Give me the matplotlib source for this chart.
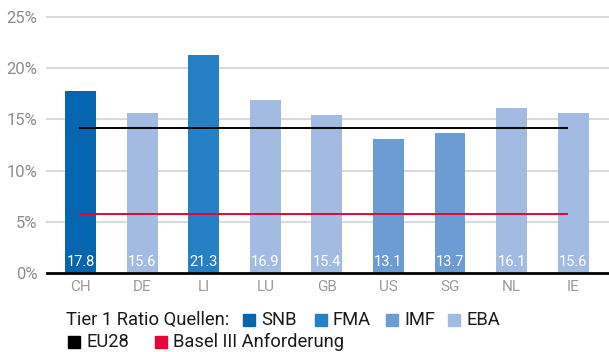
import matplotlib
matplotlib.use("Agg")
import matplotlib.pyplot as plt
from matplotlib.patches import Rectangle

# Data
countries = ["CH", "DE", "LI", "LU", "GB", "US", "SG", "NL", "IE"]
tier1_ratio = [17.8, 15.6, 21.3, 16.9, 15.4, 13.1, 13.7, 16.1, 15.6]
sources = ["SNB", "EBA", "FMA", "EBA", "EBA", "IMF", "IMF", "EBA", "EBA"]
eu28_level = 14.2
basel3_level = 5.8
y_ticks = [0, 5, 10, 15, 20, 25]

source_order = ["SNB", "FMA", "IMF", "EBA"]
source_colors = {"SNB": "#0565AF", "FMA": "#2580C5", "IMF": "#6C9CD3", "EBA": "#A3BBE3"}
eu28_color = "#000000"
basel_color = "#E5053A"

plt.rcParams["font.family"] = ["Roboto", "DejaVu Sans"]

W, H = 609, 352
fig = plt.figure(figsize=(W / 100, H / 100), dpi=100)
ax = fig.add_axes([47 / W, (H - 273) / H, 1 - 47 / W, (273 - 17) / H])

x = list(range(len(countries)))
colors = [source_colors[s] for s in sources]
ax.bar(x, tier1_ratio, width=0.5, color=colors, zorder=2)

# Reference levels
ax.hlines(eu28_level, -0.02, 7.92, color=eu28_color, lw=1.4, zorder=3)
ax.hlines(basel3_level, -0.02, 7.92, color=basel_color, lw=1.4, zorder=3)

# Value labels inside the bars
for xi, v in zip(x, tier1_ratio):
    ax.text(xi, 1.05, f"{v:.1f}", ha="center", va="center", color="white",
            fontsize=10.5, zorder=4)

ax.set_xlim(-0.544, 8.58)
ax.set_ylim(0, 25)
ax.set_yticks(y_ticks)
ax.set_yticklabels([f"{t}%" for t in y_ticks])
ax.set_xticks(x)
ax.set_xticklabels(countries)
for t in y_ticks[1:]:
    ax.axhline(t, color="#D9D9D9", lw=1.4, zorder=1, clip_on=False)
ax.axhline(0, color="black", lw=2, zorder=3, clip_on=False)

for s in ax.spines.values():
    s.set_visible(False)
ax.tick_params(axis="both", length=0)
ax.tick_params(axis="y", labelsize=12, labelcolor="#8C8C8C", pad=7)
ax.tick_params(axis="x", labelsize=11, labelcolor="#9A9A9A", pad=5)

# Legend drawn in figure pixels
def fx(px):
    return px / W

def fy(py):
    return (H - py) / H

legend_fs = 13.2
text_color = "#1A1A1A"
fig.text(fx(66), fy(320), "Tier 1 Ratio Quellen:", fontsize=legend_fs,
         color=text_color, va="center", ha="left")

def legend_item(x0, yc, color, label):
    fig.patches.append(Rectangle((fx(x0), fy(yc + 6)), 12 / W, 12 / H,
                                 transform=fig.transFigure, color=color))
    fig.text(fx(x0 + 18), fy(yc), label, fontsize=legend_fs, color=text_color,
             va="center", ha="left")

row1_x = [243, 315, 386, 448]
for px, name in zip(row1_x, source_order):
    legend_item(px, 320, source_colors[name], name)
legend_item(68, 342, eu28_color, "EU28")
legend_item(155, 342, basel_color, "Basel III Anforderung")

fig.savefig("out.png", dpi=100)
